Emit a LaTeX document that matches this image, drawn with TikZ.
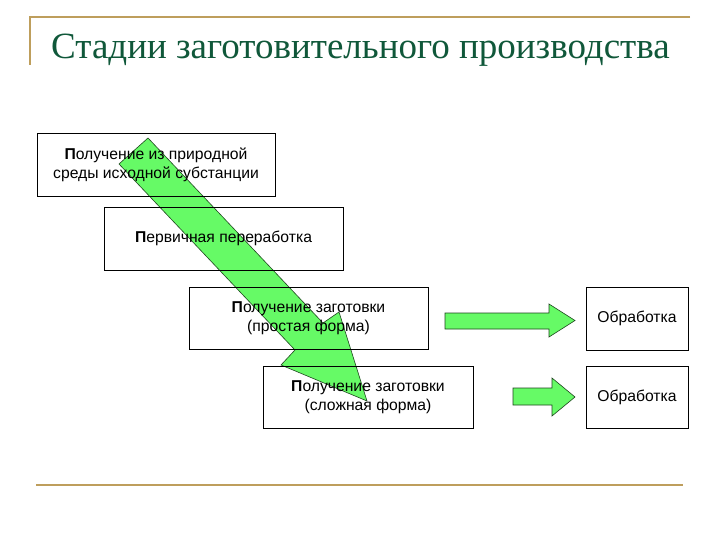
\documentclass[tikz,border=0pt]{standalone}
\usepackage{fontspec}
\setmainfont{Liberation Sans}
\newfontfamily\titlefont{Liberation Serif}
\definecolor{titlegreen}{RGB}{16,88,58}
\definecolor{rulegold}{RGB}{190,158,92}
\definecolor{arrowgreen}{RGB}{102,250,102}
\definecolor{arrowedge}{RGB}{30,70,30}
\tikzset{
  stagebox/.style={draw=black, line width=0.8pt, rectangle, inner sep=0pt, align=center,
    font=\fontsize{15.7}{19}\selectfont},
  fatarrow/.style={fill=arrowgreen, draw=arrowedge, line width=0.6pt, line join=miter},
  rule/.style={draw=rulegold, line width=2pt}
}
\begin{document}
\begin{tikzpicture}[x=1pt,y=-1pt]
\useasboundingbox (0,0) rectangle (720,540);
\fill[white] (0,0) rectangle (720,540);
% decorative rules
\coordinate (tl) at (30,17);
\coordinate (tr) at (690,17);
\coordinate (lb) at (30,65);
\coordinate (bl) at (36,485);
\coordinate (br) at (683,485);
\draw[rule, line width=1.6pt] (tr) -- (tl) -- (lb);
\draw[rule] (bl) -- (br);
% title
\node[anchor=base west, inner sep=0pt, text=titlegreen, font=\titlefont\fontsize{37}{40}\selectfont] (title) at (51,59) {Стадии заготовительного производства};
% big diagonal arrow
\draw[fatarrow] (148,138) -- (323,323) -- (339,312) -- (367,401) -- (281,365) -- (295,350) -- (119,164) -- cycle;
% small arrows
\draw[fatarrow] (445,313) -- (549,313) -- (549,304) -- (575,320.5) -- (549,337) -- (549,329) -- (445,329) -- cycle;
\draw[fatarrow] (513,388) -- (552,388) -- (552,378) -- (575,397) -- (552,416) -- (552,405) -- (513,405) -- cycle;
% boxes
\node[stagebox, minimum width=238, minimum height=63] (b1) at (156,164.5) {\textbf{П}олучение из природной\\среды исходной субстанции};
\node[stagebox, minimum width=239, minimum height=63] (b2) at (223.5,238.5) {\textbf{П}ервичная переработка};
\node[stagebox, minimum width=239, minimum height=62] (b3) at (308.5,318) {\textbf{П}олучение заготовки\\(простая форма)};
\node[stagebox, minimum width=210, minimum height=62] (b4) at (368,397) {\textbf{П}олучение заготовки\\(сложная форма)};
\node[stagebox, minimum width=102, minimum height=63] (b5) at (637,318.5) {Обработка};
\node[stagebox, minimum width=102, minimum height=62] (b6) at (637,397) {Обработка};
\end{tikzpicture}
\end{document}
